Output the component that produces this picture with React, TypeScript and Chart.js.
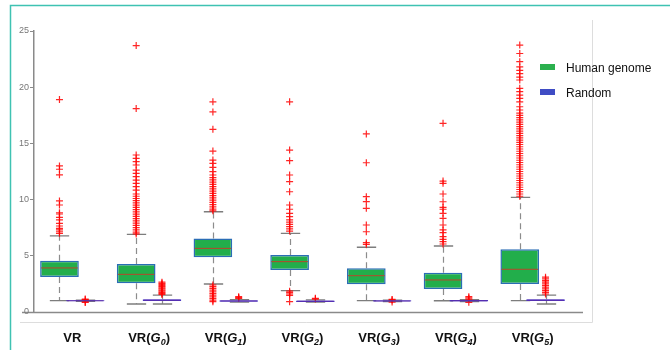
import React, { useEffect, useRef } from "react";
import { Chart, registerables } from "chart.js";

Chart.register(...registerables);

// ---------- data ----------
const categories = ["VR", "VR(G0)", "VR(G1)", "VR(G2)", "VR(G3)", "VR(G4)", "VR(G5)"];
const yTicks = [0, 5, 10, 15, 20, 25];
const seriesNames = ["Human genome", "Random"];

const humanLow = [1.01, 0.71, 2.49, 1.9, 1.01, 1.0, 1.01];
const humanQ1 = [3.12, 2.55, 4.86, 3.74, 2.46, 2.05, 2.49];
const humanMedian = [3.92, 3.35, 5.66, 4.48, 3.23, 2.85, 3.8];
const humanQ3 = [4.56, 4.27, 6.55, 5.07, 3.89, 3.5, 5.58];
const humanHigh = [6.78, 6.9, 8.92, 7.0, 5.76, 5.87, 10.2];
const humanOutliers = [
  [18.9, 13.0, 12.7, 12.2, 9.88, 9.52, 8.83, 8.72, 8.42, 8.19, 7.89, 7.65, 7.44, 7.3, 7.14, 7.0],
  [23.7, 18.1, 13.97, 13.67, 13.37, 13.08, 12.63, 12.34, 12.04, 11.74, 11.45, 11.15, 10.85, 10.5, 10.3, 10.1, 9.9, 9.7, 9.5, 9.3, 9.1, 8.9, 8.7, 8.5, 8.3, 8.1, 7.9, 7.7, 7.5, 7.3, 7.1, 6.95],
  [18.7, 17.8, 16.25, 14.32, 13.52, 13.23, 12.87, 12.48, 12.19, 11.95, 11.75, 11.55, 11.35, 11.15, 10.95, 10.75, 10.55, 10.35, 10.15, 9.95, 9.75, 9.55, 9.35, 9.15, 9.0, 2.4, 2.25, 2.1, 1.95, 1.8, 1.65, 1.5, 1.35, 1.2, 1.05, 0.92],
  [18.7, 14.41, 13.46, 12.19, 11.6, 10.7, 9.52, 9.14, 8.78, 8.48, 8.19, 8.0, 7.8, 7.6, 7.4, 7.2, 1.85, 1.72, 1.6, 1.48, 0.92],
  [15.84, 13.28, 10.26, 9.82, 9.22, 7.74, 7.14, 6.17, 6.02],
  [16.79, 11.65, 11.45, 10.5, 9.81, 9.31, 9.14, 8.78, 8.33, 7.74, 7.3, 7.06, 6.7, 6.47, 6.26, 6.05],
  [23.75, 23.0, 22.27, 21.8, 21.5, 21.2, 20.9, 20.64, 19.9, 19.6, 19.3, 19.0, 18.7, 18.26, 17.97, 17.7, 17.5, 17.3, 17.1, 16.9, 16.7, 16.5, 16.3, 16.1, 15.9, 15.7, 15.5, 15.3, 15.1, 14.9, 14.7, 14.5, 14.3, 14.1, 13.9, 13.7, 13.5, 13.3, 13.1, 12.9, 12.7, 12.5, 12.3, 12.1, 11.9, 11.7, 11.5, 11.3, 11.1, 10.9, 10.7, 10.5, 10.3],
];

const randomLow = [0.95, 0.71, 0.88, 0.88, 0.93, 0.93, 0.71];
const randomQ1 = [0.95, 0.98, 0.92, 0.9, 0.93, 0.93, 0.98];
const randomMedian = [1.0, 1.05, 0.98, 0.96, 0.98, 1.0, 1.05];
const randomQ3 = [1.05, 1.13, 1.04, 1.02, 1.04, 1.06, 1.13];
const randomHigh = [1.05, 1.51, 1.1, 1.08, 1.06, 1.1, 1.51];
const randomOutliers = [
  [1.15, 1.1, 0.9, 0.85],
  [2.65, 2.55, 2.45, 2.35, 2.25, 2.15, 2.05, 1.95, 1.85, 1.75, 1.65, 1.56],
  [1.36, 1.28, 1.2],
  [1.22, 1.15],
  [1.12, 1.06, 0.88],
  [1.36, 1.25, 1.15, 0.86],
  [3.1, 2.95, 2.8, 2.65, 2.5, 2.35, 2.2, 2.05, 1.9, 1.75, 1.6],
];

// ---------- styles ----------
const GREEN = "#22ae4b";
const GREEN_BORDER = "#2a6db5";
const PURPLE = "#6436d2";
const PURPLE_BORDER = "#4a3cc8";
const LEGEND_BLUE = "#3f4cc4";
const MEDIAN = "#b8452c";
const OUTLIER = "rgba(255,0,0,0.85)";
const OFFSET = 0.168; // half distance between the two boxes of a category, in category units
const BAR_RATIO = 1.5; // box width relative to the gap between paired boxes
const FONT = '"Liberation Sans", Arial, sans-serif';

const boxStats = [
  { low: humanLow, med: humanMedian, q1: humanQ1, q3: humanQ3, high: humanHigh },
  { low: randomLow, med: randomMedian, q1: randomQ1, q3: randomQ3, high: randomHigh },
];

const extrasPlugin = {
  id: "boxExtras",
  beforeDraw(chart: any) {
    const ctx = chart.ctx;
    const { top, bottom, left, right } = chart.chartArea;
    ctx.save();
    ctx.strokeStyle = "#3fc2b2";
    ctx.lineWidth = 1.5;
    ctx.beginPath();
    ctx.moveTo(10.5, 350);
    ctx.lineTo(10.5, 5.5);
    ctx.lineTo(670, 5.5);
    ctx.stroke();
    ctx.strokeStyle = "#dddddd";
    ctx.lineWidth = 1;
    ctx.beginPath();
    ctx.moveTo(20, bottom + 10.5);
    ctx.lineTo(right + 21.5, bottom + 10.5);
    ctx.lineTo(right + 21.5, top - 11);
    ctx.stroke();
    ctx.strokeStyle = "#8a8a8a";
    ctx.lineWidth = 1.5;
    ctx.beginPath();
    ctx.moveTo(left - 12, bottom + 0.5);
    ctx.lineTo(right + 12, bottom + 0.5);
    ctx.stroke();
    ctx.restore();
  },
  beforeDatasetsDraw(chart: any) {
    const ctx = chart.ctx;
    const y = chart.scales.y;
    ctx.save();
    boxStats.forEach((s, d) => {
      const meta = chart.getDatasetMeta(d);
      meta.data.forEach((el: any, i: number) => {
        const cx = Math.round(el.x) + 0.5;
        const capW = el.width * 0.5;
        const pHigh = y.getPixelForValue(s.high[i]);
        const pLow = y.getPixelForValue(s.low[i]);
        const pQ3 = y.getPixelForValue(s.q3[i]);
        const pQ1 = y.getPixelForValue(s.q1[i]);
        ctx.strokeStyle = "#8c8c8c";
        ctx.lineWidth = 1.2;
        ctx.setLineDash([6, 4]);
        ctx.beginPath();
        if (pHigh < pQ3) {
          ctx.moveTo(cx, pQ3);
          ctx.lineTo(cx, pHigh);
        }
        if (pLow > pQ1) {
          ctx.moveTo(cx, pQ1);
          ctx.lineTo(cx, pLow);
        }
        ctx.stroke();
        ctx.setLineDash([]);
        ctx.strokeStyle = "#7d7d7d";
        ctx.lineWidth = 1.3;
        ctx.beginPath();
        ctx.moveTo(cx - capW / 2, pHigh);
        ctx.lineTo(cx + capW / 2, pHigh);
        ctx.moveTo(cx - capW / 2, pLow);
        ctx.lineTo(cx + capW / 2, pLow);
        ctx.stroke();
      });
    });
    ctx.restore();
  },
  afterDatasetsDraw(chart: any) {
    const ctx = chart.ctx;
    const y = chart.scales.y;
    ctx.save();
    boxStats.forEach((s, d) => {
      const meta = chart.getDatasetMeta(d);
      meta.data.forEach((el: any, i: number) => {
        const pm = y.getPixelForValue(s.med[i]);
        ctx.strokeStyle = d === 0 ? MEDIAN : "#5a2aa8";
        ctx.lineWidth = 1;
        ctx.beginPath();
        ctx.moveTo(el.x - el.width / 2 + 1, pm);
        ctx.lineTo(el.x + el.width / 2 - 1, pm);
        ctx.stroke();
      });
    });
    ctx.restore();
  },
  afterDraw(chart: any) {
    const ctx = chart.ctx;
    const xs = chart.scales.x;
    const base = chart.chartArea.bottom + 30;
    ctx.save();
    ctx.fillStyle = "#111";
    ctx.textBaseline = "alphabetic";
    ctx.textAlign = "left";
    categories.forEach((lab, i) => {
      const cx = xs.getPixelForValue(i);
      const m = lab.match(/^(\w+)\((\w)(\d)\)$/);
      const parts = m
        ? [
            { t: m[1] + "(", f: `bold 13px ${FONT}`, dy: 0 },
            { t: m[2], f: `italic bold 13px ${FONT}`, dy: 0 },
            { t: m[3], f: `italic bold 9px ${FONT}`, dy: 3 },
            { t: ")", f: `bold 13px ${FONT}`, dy: 0 },
          ]
        : [{ t: lab, f: `bold 13px ${FONT}`, dy: 0 }];
      let total = 0;
      const widths = parts.map((p) => {
        ctx.font = p.f;
        const w = ctx.measureText(p.t).width;
        total += w;
        return w;
      });
      let x = cx - total / 2;
      parts.forEach((p, k) => {
        ctx.font = p.f;
        ctx.fillText(p.t, x, base + p.dy);
        x += widths[k];
      });
    });
    ctx.restore();
  },
};

export default function App() {
  const ref = useRef<HTMLCanvasElement | null>(null);

  useEffect(() => {
    if (!ref.current) return;
    const humanPts = humanOutliers.flatMap((vals, i) => vals.map((v) => ({ x: i - OFFSET, y: v })));
    const randomPts = randomOutliers.flatMap((vals, i) => vals.map((v) => ({ x: i + OFFSET, y: v })));

    const boxCommon = {
      xAxisID: "xo",
      grouped: false,
      borderSkipped: false,
      categoryPercentage: 1,
      barPercentage: BAR_RATIO,
    };
    const outlierCommon = {
      type: "scatter",
      xAxisID: "xo",
      pointStyle: "cross",
      radius: 3.5,
      borderColor: OUTLIER,
      borderWidth: 1.2,
      backgroundColor: OUTLIER,
    };

    const chart = new Chart(ref.current, {
      type: "bar",
      data: {
        labels: categories,
        datasets: [
          {
            ...boxCommon,
            label: seriesNames[0],
            data: categories.map((_, i) => ({ x: i - OFFSET, y: [humanQ1[i], humanQ3[i]] })),
            backgroundColor: GREEN,
            borderColor: GREEN_BORDER,
            borderWidth: 1.5,
          } as any,
          {
            ...boxCommon,
            label: seriesNames[1],
            data: categories.map((_, i) => ({ x: i + OFFSET, y: [randomQ1[i], randomQ3[i]] })),
            backgroundColor: PURPLE,
            borderColor: PURPLE_BORDER,
            borderWidth: 1,
          } as any,
          { ...outlierCommon, label: "human outliers", data: humanPts } as any,
          { ...outlierCommon, label: "random outliers", data: randomPts } as any,
        ],
      },
      options: {
        responsive: false,
        animation: false,
        events: [],
        layout: { padding: { left: 10, top: 31, right: 99, bottom: 0 } },
        plugins: { legend: { display: false }, tooltip: { enabled: false }, title: { display: false } },
        scales: {
          x: {
            type: "category",
            offset: true,
            grid: { display: false },
            border: { display: false },
            ticks: { display: false },
            afterFit: (s: any) => {
              s.height = 38;
            },
          },
          xo: {
            type: "linear",
            display: false,
            offset: false,
            grid: { offset: false },
            min: -0.5,
            max: categories.length - 0.5,
            ticks: { stepSize: 1 },
          },
          y: {
            type: "linear",
            stacked: false,
            min: yTicks[0],
            max: yTicks[yTicks.length - 1],
            afterBuildTicks: (s: any) => {
              s.ticks = yTicks.map((v) => ({ value: v }));
            },
            afterFit: (s: any) => {
              s.width = 24;
            },
            grid: { drawOnChartArea: false, drawTicks: true, tickLength: 4, color: "#8a8a8a", lineWidth: 1 },
            border: { display: true, color: "#8a8a8a", width: 1.5 },
            ticks: { color: "#777", font: { family: FONT, size: 9 }, padding: 1 },
          },
        },
      } as any,
      plugins: [extrasPlugin],
    });
    return () => chart.destroy();
  }, []);

  const legendText: React.CSSProperties = {
    position: "absolute",
    left: 566,
    font: `12px ${FONT}`,
    lineHeight: "14px",
    color: "#111",
    whiteSpace: "nowrap",
  };

  return (
    <div style={{ position: "absolute", left: 0, top: 0, width: 670, height: 350, background: "#fff" }}>
      <canvas ref={ref} width={670} height={350} style={{ display: "block" }} />
      <div style={{ position: "absolute", left: 540, top: 64, width: 15, height: 6, background: "#2bb04e" }} />
      <span style={{ ...legendText, top: 61 }}>{seriesNames[0]}</span>
      <div style={{ position: "absolute", left: 540, top: 89, width: 15, height: 6, background: LEGEND_BLUE }} />
      <span style={{ ...legendText, top: 86 }}>{seriesNames[1]}</span>
    </div>
  );
}
